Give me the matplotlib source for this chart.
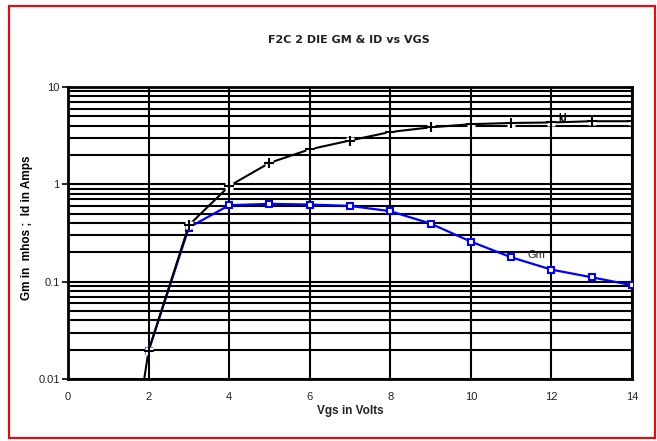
import matplotlib
matplotlib.use("Agg")
import matplotlib.pyplot as plt
from matplotlib.patches import Rectangle
from matplotlib.ticker import FixedLocator, NullFormatter, LogLocator

# ---- data ----
vgs_id = [1.5, 2, 3, 4, 5, 6, 7, 8, 9, 10, 11, 12, 13, 14]
id_amps = [0.0009, 0.0195, 0.38, 0.96, 1.66, 2.29, 2.82, 3.45, 3.85, 4.15, 4.27, 4.32, 4.45, 4.45]
vgs_gm = [2, 3, 4, 5, 6, 7, 8, 9, 10, 11, 12, 13, 14]
gm_mhos = [0.0195, 0.36, 0.61, 0.63, 0.62, 0.60, 0.53, 0.395, 0.258, 0.178, 0.133, 0.111, 0.092]
x_ticks = [0, 2, 4, 6, 8, 10, 12, 14]
y_ticks = [0.01, 0.1, 1, 10]
y_tick_labels = ["0.01", "0.1", "1", "10"]

title = "F2C 2 DIE GM & ID vs VGS"
xlabel = "Vgs in Volts"
ylabel = "Gm in  mhos ;  Id in Amps"

W, H = 657, 441
fig = plt.figure(figsize=(W / 100, H / 100), dpi=100)
fig.patch.set_facecolor("white")

ax = fig.add_axes([68 / W, 1 - 379 / H, (632 - 68) / W, (379 - 87) / H])
ax.set_yscale("log")
ax.set_xlim(0, 14)
ax.set_ylim(0.01, 10)

# grid
ax.set_xticks(x_ticks)
ax.xaxis.set_ticklabels([str(t) for t in x_ticks])
ax.yaxis.set_major_locator(FixedLocator(y_ticks))
ax.yaxis.set_ticklabels(y_tick_labels)
ax.yaxis.set_minor_locator(LogLocator(base=10, subs=range(2, 10)))
ax.yaxis.set_minor_formatter(NullFormatter())
ax.grid(True, which="major", axis="both", color="black", lw=1.5)
ax.grid(True, which="minor", axis="y", color="black", lw=1.5)
ax.set_axisbelow(True)

for s in ax.spines.values():
    s.set_linewidth(2.0)
    s.set_color("black")

ax.tick_params(axis="x", which="both", length=0, pad=9, labelsize=8)
ax.tick_params(axis="y", which="major", length=4, width=1.2, direction="out", pad=2, labelsize=8)
ax.tick_params(axis="y", which="minor", length=0)
for lab in ax.get_xticklabels() + ax.get_yticklabels():
    lab.set_fontfamily("Liberation Sans")
    lab.set_color("#222222")

# Gm series
ax.plot(vgs_gm, gm_mhos, color="#0000ff", lw=1.6, marker="s", markersize=5,
        markerfacecolor="white", markeredgecolor="#0000ff", markeredgewidth=1.5, zorder=3)

# Id series
ax.plot(vgs_id, id_amps, color="black", lw=1.5, zorder=4)
ax.plot(vgs_id, id_amps, ls="none", marker="s", markersize=6, markerfacecolor="white",
        markeredgecolor="none", zorder=5)
ax.plot(vgs_id, id_amps, ls="none", marker="+", markersize=7, markeredgewidth=1.5,
        color="black", zorder=6)

ax.text(12.18, 4.75, "Id", fontsize=7, fontweight="bold", family="Liberation Sans",
        ha="left", va="center", zorder=7)
ax.text(11.4, 0.19, "Gm", fontsize=8, family="Liberation Sans", color="#222222",
        ha="left", va="center", zorder=7)

fig.text(349 / W, 1 - 40 / H, title, ha="center", va="center", fontsize=8,
         fontweight="bold", family="DejaVu Sans", color="#222222")
fig.text(350 / W, 1 - 411 / H, xlabel, ha="center", va="center", fontsize=8.5,
         fontweight="bold", family="Liberation Sans", color="#222222")
fig.text(27 / W, 1 - 228 / H, ylabel, ha="center", va="center", rotation=90,
         fontsize=8.5, fontweight="bold", family="Liberation Sans", color="black")

# red border around figure
fig.patches.append(Rectangle((9 / W, 1 - 438 / H), (655 - 9) / W, (438 - 6) / H,
                             transform=fig.transFigure, fill=False, edgecolor="red",
                             lw=1.5, figure=fig))

fig.savefig("out.png", dpi=100, facecolor="white")
